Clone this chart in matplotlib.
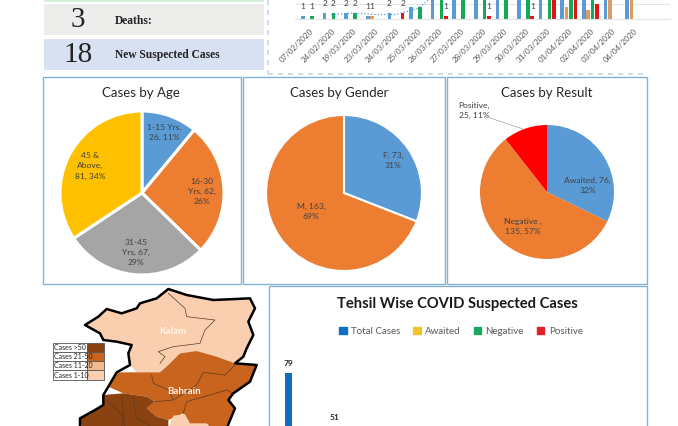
import matplotlib
matplotlib.use('Agg')
import matplotlib.pyplot as plt
from matplotlib.patches import Patch, Polygon, Rectangle
import numpy as np

plt.rcParams['font.family'] = ['Lato', 'DejaVu Sans']

W, H = 678, 426

# ---- daily chart (top of it is cut off by the picture)
dates = ['07/02/2020', '24/02/2020', '19/03/2020', '23/03/2020', '24/03/2020', '25/03/2020',
         '26/03/2020', '27/03/2020', '28/03/2020', '29/03/2020', '30/03/2020', '31/03/2020',
         '01/04/2020', '02/04/2020', '03/04/2020', '04/04/2020']
day_total = [1, 2, 2, 1, 2, 4, 14, 16, 18, 19, 21, 22, 24, 22, 34, 34]
day_awaited = [0, 0, 0, 1, 0, 0, 0, 0, 0, 0, 0, 0, 4, 3, 34, 34]
day_negative = [1, 2, 2, 0, 0, 4, 13, 16, 17, 19, 20, 15, 12, 14, 0, 0]
day_positive = [0, 0, 0, 0, 2, 0, 1, 0, 1, 0, 1, 7, 8, 5, 0, 0]
day_trend = [np.nan, 1.5, 2, 1.5, 1.5, 3.5, 9, 15, 17, 18, 20, 21, 23, 23, 28, 34]

# ---- pies
age_values = [26, 62, 67, 81]
age_labels = ['1-15 Yrs,\n26, 11%', '16-30\nYrs, 62,\n26%', '31-45\nYrs, 67,\n29%', '45 &\nAbove,\n81, 34%']
gender_values = [73, 163]
gender_labels = ['F, 73,\n31%', 'M, 163,\n69%']
result_values = [76, 135, 25]
result_labels = ['Awaited, 76,\n32%', 'Negative ,\n135, 57%', 'Positive,\n25, 11%']

# ---- tehsil bars, only the total series reaches the visible part
tehsil_total = [79, 51, 45]

# ---- map legend
map_classes = ['Cases >50', 'Cases 21-50', 'Cases 11-20', 'Cases 1-10']
map_colors = ['#8a4210', '#c8641e', '#f5b98c', '#f9cfb0']

BLUE, ORANGE, GRAY, YELLOW = '#5b9bd5', '#ed7d31', '#a5a5a5', '#ffc000'
FRAME = '#85b2d3'
TXT = '#404040'

fig = plt.figure(figsize=(W / 100, H / 100), dpi=100, facecolor='white')


def px_axes(x0, y0, x1, y1):
    # axes placed in picture pixels, y going down
    return fig.add_axes([x0 / W, 1 - y1 / H, (x1 - x0) / W, (y1 - y0) / H])


# background layer in pixels
bg = px_axes(0, 0, W, H)
bg.set_xlim(0, W)
bg.set_ylim(H, 0)
bg.axis('off')

# info boxes
bg.add_patch(Rectangle((44, -2), 220, 3.5, fc='#d5f0d8', ec='none'))
bg.add_patch(Rectangle((44, 4), 220, 31, fc='#ededeb', ec='none'))
bg.add_patch(Rectangle((44, 39), 220, 31, fc='#d8e1f2', ec='none'))
bg.text(78, 20, '3', family='Liberation Serif', fontsize=21, color='#222222', ha='center', va='center')
bg.text(78, 55, '18', family='Liberation Serif', fontsize=21, color='#222222', ha='center', va='center')
bg.text(115, 20.5, 'Deaths:', family='Liberation Serif', fontsize=8.3, weight='bold', color='#222222', va='center')
bg.text(115, 55, 'New Suspected Cases', family='Liberation Serif', fontsize=8.3, weight='bold', color='#222222', va='center')

# dashed frame around the daily chart
bg.plot([268, 268], [0, 74], color='#c5d6ea', lw=1.2, ls=(0, (3, 3)))
bg.plot([268, 647], [74, 74], color='#c5d6ea', lw=1.2, ls=(0, (3, 3)))

# frames
for x0, y0, x1, y1 in [(43, 76.5, 240.5, 284), (243, 76.5, 444.5, 284), (447, 76.5, 647, 284), (268.5, 285.5, 647, 430)]:
    bg.add_patch(Rectangle((x0, y0), x1 - x0, y1 - y0, fc='none', ec=FRAME, lw=1))

# map drawn from points read in the picture
def m(points):
    return [(40 + a / 3, 285 + b / 3) for a, b in points]

kalam = [(385, 12), (440, 30), (520, 45), (630, 40), (645, 70), (625, 110), (640, 150), (620, 190), (610, 215),
         (585, 235), (530, 215), (470, 198), (420, 205), (385, 240), (360, 262), (290, 262), (270, 240), (265, 205),
         (275, 180), (230, 170), (190, 165), (180, 145), (135, 120), (175, 95), (200, 72), (245, 85), (290, 70),
         (300, 55), (350, 40)]
bahrain = [(470, 198), (530, 215), (585, 235), (650, 240), (630, 290), (580, 325), (565, 345), (585, 370), (560, 430),
           (445, 430), (430, 385), (385, 405), (350, 395), (320, 370), (345, 350), (320, 335), (250, 325), (205, 305),
           (230, 262), (290, 262), (360, 262), (385, 240), (420, 205)]
dark = [(190, 330), (250, 325), (320, 335), (345, 350), (320, 370), (350, 395), (385, 405), (385, 430), (125, 430),
        (120, 400), (165, 375), (190, 360)]
pale = [(385, 430), (400, 392), (435, 388), (450, 415), (500, 415), (515, 430)]
for pts, col in [(kalam, map_colors[3]), (bahrain, map_colors[1]), (dark, map_colors[0]), (pale, map_colors[3])]:
    bg.add_patch(Polygon(m(pts), closed=True, fc=col, ec='none'))

inner = [[(385, 25), (435, 70), (440, 95), (525, 105), (495, 135), (480, 175), (400, 185), (355, 200), (375, 215), (360, 235)],
         [(335, 270), (340, 295), (385, 315), (400, 345), (345, 350)],
         [(400, 345), (470, 300), (490, 262), (555, 270), (585, 240)],
         [(430, 385), (440, 350), (560, 315), (580, 325)],
         [(245, 335), (255, 430)], [(205, 350), (250, 395), (245, 430)], [(280, 340), (290, 400), (340, 430)]]
for line in inner:
    xs, ys = zip(*m(line))
    bg.plot(xs, ys, color='#5a3a20', lw=0.5)

outline = [(120, 430), (120, 400), (165, 375), (190, 360), (190, 330), (205, 305), (230, 262), (270, 240), (265, 205),
           (275, 180), (230, 170), (190, 165), (180, 145), (135, 120), (175, 95), (200, 72), (245, 85), (290, 70),
           (300, 55), (350, 40), (385, 12), (440, 30), (520, 45), (630, 40), (645, 70), (625, 110), (640, 150),
           (620, 190), (610, 215), (585, 235), (650, 240), (630, 290), (580, 325), (565, 345), (585, 370), (560, 430)]
xs, ys = zip(*m(outline))
bg.plot(xs, ys, color='black', lw=1.8, solid_joinstyle='round')
bg.text(173, 331, 'Kalam', color='#fff4ea', fontsize=7, weight='bold', ha='center', va='center')
bg.text(184, 392, 'Bahrain', color='#fff4ea', fontsize=7, weight='bold', ha='center', va='center')

# map legend
for i in range(len(map_classes)):
    y = 342.5 + i * 9.3
    bg.add_patch(Rectangle((53, y), 34, 9.3, fc='white', ec='#555555', lw=0.6))
    bg.add_patch(Rectangle((87, y), 17, 9.3, fc=map_colors[i], ec='#555555', lw=0.6))
    bg.text(54.5, y + 4.8, map_classes[i], fontsize=5, color='#222222', va='center')

# ---- daily chart
ax = px_axes(295, 0, 670, 19)
x = np.arange(len(dates))
step = 21.6
ax.set_xlim((295 - 309.6) / step, (670 - 309.6) / step)
ax.set_ylim(0, 19 / 3)
series = [(day_total, BLUE, -0.306), (day_awaited, '#e09a60', -0.102),
          (day_negative, '#14a85a', 0.102), (day_positive, '#e01414', 0.306)]
for values, col, off in series:
    ax.bar(x + off, values, 0.17, color=col, zorder=2)
    for xi, v in zip(x, values):
        # labels of taller bars fall outside the picture
        if 0 < v <= 2:
            ax.annotate(str(v), (xi + off, v), xytext=(0, 4.5), textcoords='offset points', ha='center', va='bottom',
                        fontsize=6, color=TXT)
ax.plot(x, day_trend, color=BLUE, lw=0.9, ls=':', zorder=3)
ax.set_yticks([5])
ax.yaxis.grid(True, color='#e4e4e4', lw=0.7)
ax.set_axisbelow(True)
ax.tick_params(axis='y', left=False, labelleft=False)
ax.tick_params(axis='x', length=0, pad=6)
ax.set_xticks(x)
ax.set_xticklabels(dates, rotation=45, ha='right', rotation_mode='anchor', fontsize=5.8, color='#595959')
ax.patch.set_visible(False)
for s in ax.spines.values():
    s.set_visible(False)
ax.spines['bottom'].set_visible(True)
ax.spines['bottom'].set_color('#e4e4e4')


# ---- pies
def pie_axes(cx, cy, r, values, colors, edge):
    a = px_axes(cx - r, cy - r, cx + r, cy + r)
    a.pie(values, colors=colors, startangle=90, counterclock=False, radius=1,
          wedgeprops={'edgecolor': 'white', 'linewidth': edge} if edge else None)
    a.set_xlim(-1, 1)
    a.set_ylim(-1, 1)
    a.patch.set_visible(False)
    for w in a.patches:
        w.set_clip_on(False)
    return a


a1 = pie_axes(142, 193, 82, age_values, [BLUE, ORANGE, GRAY, YELLOW], 2.2)
for lab, pos in zip(age_labels, [(0.27, 0.74), (0.73, 0.02), (-0.07, -0.73), (-0.63, 0.33)]):
    a1.text(pos[0], pos[1], lab, ha='center', va='center', fontsize=6.1, color=TXT, linespacing=1.5)
bg.text(141, 93, 'Cases by Age', ha='center', va='center', fontsize=9.5, color='#262626')

a2 = pie_axes(344, 193, 78, gender_values, [BLUE, ORANGE], 1.5)
for lab, pos in zip(gender_labels, [(0.63, 0.42), (-0.42, -0.24)]):
    a2.text(pos[0], pos[1], lab, ha='center', va='center', fontsize=6.1, color=TXT, linespacing=1.5)
bg.text(339, 93, 'Cases by Gender', ha='center', va='center', fontsize=9.5, color='#262626')

a3 = pie_axes(547, 192, 67, result_values, [BLUE, ORANGE, '#ff0000'], 0)
for lab, pos in zip(result_labels[:2], [(0.61, 0.10), (-0.36, -0.52)]):
    a3.text(pos[0], pos[1], lab, ha='center', va='center', fontsize=6.1, color=TXT, linespacing=1.5)
a3.text(-1.09, 1.22, result_labels[2], ha='center', va='center', fontsize=6.1, color=TXT, linespacing=1.5)
bg.plot([490, 523], [118, 129], color='#b0b0b0', lw=0.6)
bg.text(547, 93, 'Cases by Result', ha='center', va='center', fontsize=9.5, color='#262626')

# ---- tehsil bars
tx = np.arange(len(tehsil_total))
b = px_axes(270, 340, 646, H)
step2 = 45.5
scale = 1.93
base = 373 + 79 * scale
b.set_xlim((270 - 288.5) / step2, (646 - 288.5) / step2)
b.set_ylim((base - H) / scale, (base - 340) / scale)
b.bar(tx, tehsil_total, 7 / step2, color='#0f6fbe')
for xi, v in zip(tx, tehsil_total):
    b.annotate(str(v), (xi, v), xytext=(0, 4), textcoords='offset points', ha='center', va='bottom',
               fontsize=6, weight='bold', color='#262626', annotation_clip=False)
b.axis('off')
bg.text(457, 304, 'Tehsil Wise COVID Suspected Cases', ha='center', va='center', fontsize=10.6, weight='bold', color='#1a1a1a')
handles = [Patch(color='#0f6fbe', label='Total Cases'), Patch(color='#f2c230', label='Awaited'),
           Patch(color='#1aa860', label='Negative'), Patch(color='#e0202a', label='Positive')]
bg.legend(handles=handles, ncol=4, frameon=False, loc='center', bbox_to_anchor=(461 / W, 1 - 331 / H),
          bbox_transform=fig.transFigure, fontsize=7, labelcolor='#595959', handlelength=0.75, handleheight=0.75,
          handletextpad=0.45, columnspacing=1.35)

fig.savefig('out.png', dpi=100)
